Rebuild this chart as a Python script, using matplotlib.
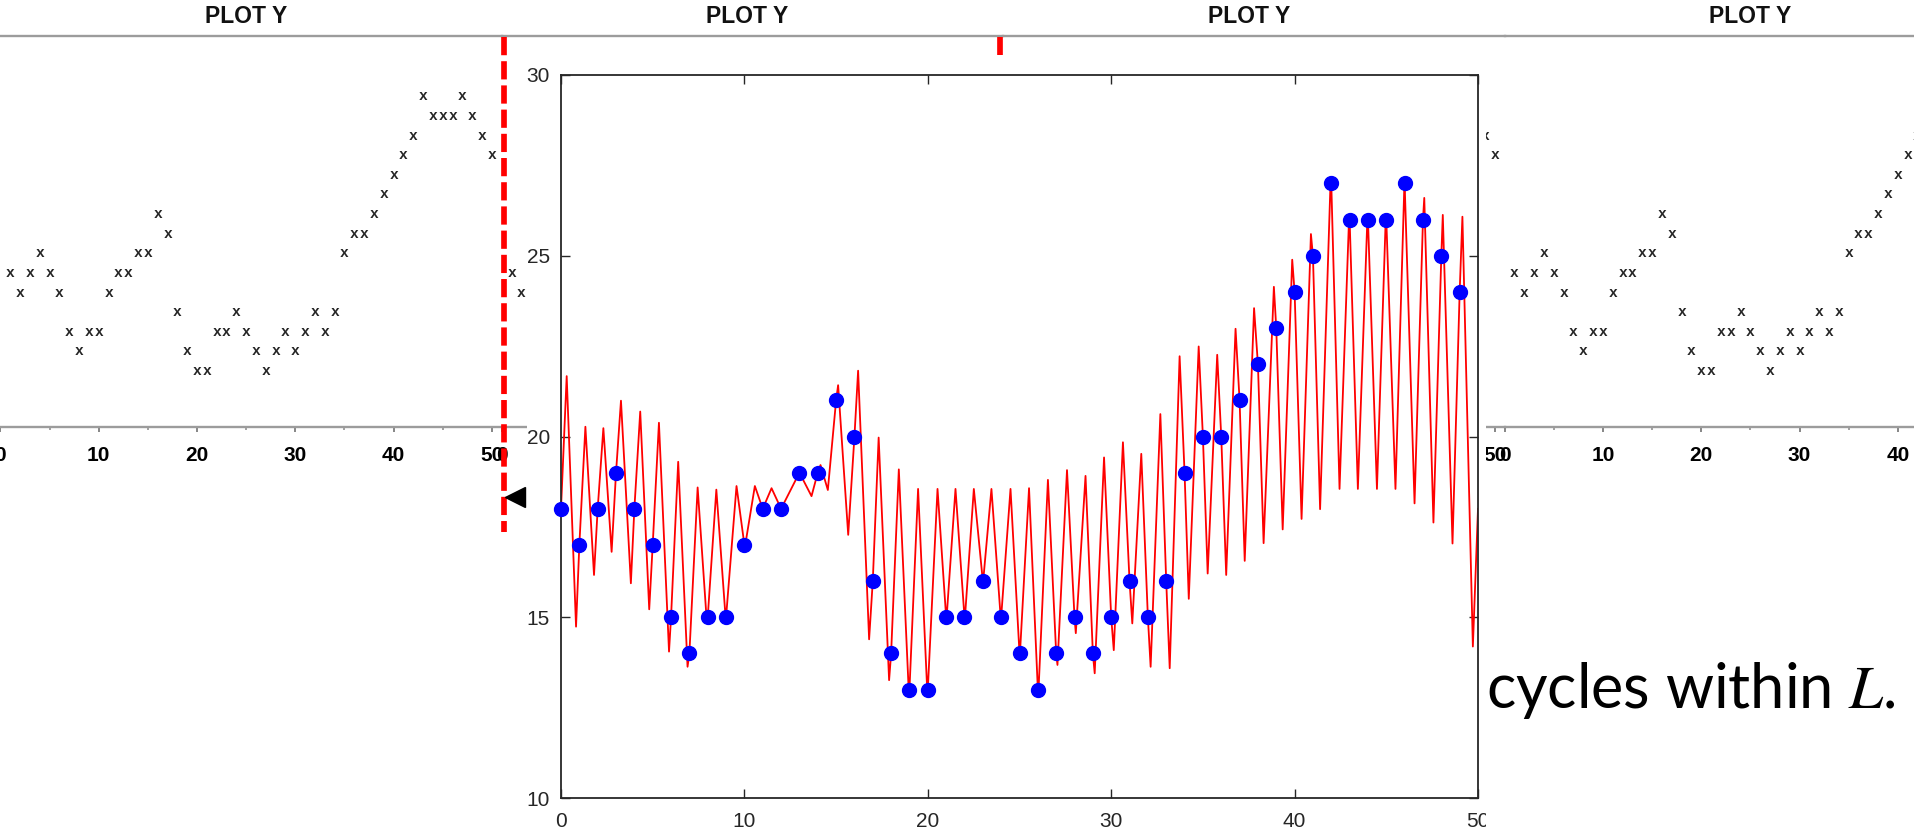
import matplotlib
matplotlib.use("Agg")
import matplotlib.pyplot as plt
from matplotlib.lines import Line2D
from matplotlib.patches import Rectangle
from matplotlib.transforms import Bbox, TransformedBbox, blended_transform_factory

plt.rcParams["font.family"] = ["Liberation Sans", "DejaVu Sans"]
plt.rcParams["mathtext.fontset"] = "stix"

W, H = 1915, 833

# Sampled values (blue dots, one per integer x); the PLOT Y strips show the same values at x=1..50
sample_x = list(range(50))
sample_y = [18, 17, 18, 19, 18, 17, 15, 14, 15, 15,
            17, 18, 18, 19, 19, 21, 20, 16, 14, 13,
            13, 15, 15, 16, 15, 14, 13, 14, 15, 14,
            15, 16, 15, 16, 19, 20, 20, 21, 22, 23,
            24, 25, 27, 26, 26, 26, 27, 26, 25, 24]

# Maxima of the red (continuous) signal
peak_x = [0.31, 1.33, 2.31, 3.27, 4.32, 5.34, 6.39, 7.45, 8.47, 9.57,
          10.57, 11.48, 12.55, 14.15, 15.11, 16.20, 17.32, 18.42, 19.47, 20.53,
          21.51, 22.51, 23.47, 24.51, 25.52, 26.55, 27.59, 28.60, 29.61, 30.64,
          31.64, 32.68, 33.73, 34.77, 35.78, 36.78, 37.79, 38.87, 39.87, 40.89,
          41.96, 42.97, 43.97, 44.97, 45.99, 47.07, 48.08, 49.15]
peak_y = [21.67, 20.27, 20.23, 20.99, 20.69, 20.38, 19.30, 18.59, 18.53, 18.63,
          18.63, 18.57, 18.55, 19.21, 21.42, 21.82, 19.97, 19.09, 18.55, 18.55,
          18.55, 18.55, 18.55, 18.55, 18.57, 18.80, 19.07, 18.91, 19.42, 19.84,
          19.52, 20.62, 22.22, 22.49, 22.26, 22.98, 23.55, 24.14, 24.89, 25.60,
          27.05, 26.05, 26.05, 26.05, 27.05, 26.60, 26.13, 26.08]

# Minima of the red signal
trough_x = [0.82, 1.80, 2.76, 3.81, 4.81, 5.89, 6.90, 7.94, 8.98, 10.03,
            13.66, 14.55, 15.66, 16.80, 17.89, 18.97, 19.98, 21.02, 22.02, 23.01,
            23.98, 25.02, 26.03, 27.07, 28.07, 29.10, 30.14, 31.15, 32.15, 33.19,
            34.23, 35.26, 36.27, 37.28, 38.31, 39.35, 40.38, 41.39, 42.45, 43.45,
            44.49, 45.50, 46.54, 47.57, 48.61, 49.72]
trough_y = [14.74, 16.17, 16.81, 15.94, 15.22, 14.05, 13.63, 14.95, 14.95, 16.95,
            18.35, 18.52, 17.28, 14.39, 13.26, 12.85, 12.85, 14.95, 14.95, 15.95,
            14.95, 13.95, 12.90, 13.68, 14.56, 13.45, 14.09, 14.83, 13.63, 13.59,
            15.51, 16.21, 16.17, 16.56, 17.05, 17.43, 17.72, 17.99, 18.55, 18.55,
            18.55, 18.55, 18.15, 17.62, 17.04, 14.19]

# Value where the red signal leaves the right edge
edge_x = [50.0]
edge_y = [18.0]

strip_ticks = [0, 10, 20, 30, 40, 50]
main_xticks = [0, 10, 20, 30, 40, 50]
main_yticks = [10, 15, 20, 25, 30]

fig = plt.figure(figsize=(W / 100, H / 100), dpi=100)


def px_axes(left, top, right, bottom, **kw):
    # Add axes from pixel box (origin top-left)
    return fig.add_axes([left / W, 1 - bottom / H, (right - left) / W, (bottom - top) / H], **kw)


def fig_y(y_px):
    return 1 - y_px / H


# Background "PLOT Y" strips, repeated side by side
strip_x0 = 0.4
strip_w = 501.4
for i in range(4):
    x0 = strip_x0 + i * strip_w
    ax = px_axes(x0, 36, x0 + strip_w, 427, zorder=0)
    ax.patch.set_visible(False)
    ax.set_xlim(0, 51)
    ax.set_ylim(10.15, 30.07)
    for side in ("left", "right"):
        ax.spines[side].set_visible(False)
    for side in ("top", "bottom"):
        ax.spines[side].set_color("#9c9c9c")
        ax.spines[side].set_linewidth(1.7)
    ax.set_yticks([])
    ax.set_xticks(strip_ticks, labels=[str(t) for t in strip_ticks],
                  fontweight="bold", fontsize=15)
    ax.set_xticks([5, 15, 25, 35, 45], minor=True)
    ax.tick_params(axis="x", which="major", direction="out", length=3.6,
                   width=1.1, color="#666666", pad=10)
    ax.tick_params(axis="x", which="minor", direction="out", length=2.2,
                   width=1.1, color="#888888")

    for k, v in enumerate(sample_y):
        ax.text(k + 1, v, "x", ha="center", va="center", fontsize=10.5,
                family="Liberation Mono", fontweight="bold", color="#262626")

    trans = blended_transform_factory(ax.transData, ax.transAxes)
    ax.text(25, 1.0486, "PLOT Y", transform=trans, ha="center", va="center",
            fontsize=16.5, fontweight="bold", color="#111111")

# Red dashed markers
for x_px in (504, 1000):
    fig.add_artist(Line2D([x_px / W, x_px / W], [fig_y(37), fig_y(532)],
                          transform=fig.transFigure, color="#ff0000", lw=4.1,
                          linestyle=(0, (3.2, 1.05)), zorder=0.5))

# Black pointer next to the dashed line
fig.add_artist(Line2D([515 / W], [fig_y(497)], transform=fig.transFigure,
                      marker="<", markersize=15, color="black", lw=0, zorder=0.7))

# Slide text partly hidden behind the plot
txt = fig.text(1486 / W, fig_y(708), "cycles within $L$.", ha="left", va="baseline",
               fontsize=40, family="Lato", color="black", zorder=0.6)
renderer = fig.canvas.get_renderer()
width_px = txt.get_window_extent(renderer).width
txt.set_fontsize(40 * 410 / width_px)

# White pasted plot covering the strips
fig.add_artist(Rectangle((527 / W, 0), (1486 - 527) / W, fig_y(55),
                         transform=fig.transFigure, facecolor="white",
                         edgecolor="none", zorder=1))

# Main plot
ax = px_axes(561, 75, 1478, 798, zorder=2)
ax.set_facecolor("white")

pts = sorted(zip(sample_x + peak_x + trough_x + edge_x,
                 sample_y + peak_y + trough_y + edge_y))
line_x = [p[0] for p in pts]
line_y = [p[1] for p in pts]
ax.plot(line_x, line_y, color="#ff0000", lw=1.3, solid_joinstyle="round", zorder=2)
ax.plot(sample_x, sample_y, "o", color="#0000ff", markersize=10, zorder=3, clip_on=False)

ax.set_xlim(0, 50)
ax.set_ylim(10, 30)
ax.set_xticks(main_xticks)
ax.set_yticks(main_yticks)
ax.tick_params(direction="in", length=6.5, width=1.0, color="#262626",
               labelcolor="#262626", labelsize=15, top=True, right=True)
ax.tick_params(axis="x", pad=10)
ax.tick_params(axis="y", pad=8)
for spine in ax.spines.values():
    spine.set_color("#262626")
    spine.set_linewidth(1.3)

# The pasted image is cut on its right edge, so the last x label is clipped
clip = TransformedBbox(Bbox.from_extents(527 / W, 0, 1486 / W, 1), fig.transFigure)
for tick in ax.xaxis.get_major_ticks():
    tick.label1.set_clip_box(clip)
    tick.label1.set_clip_on(True)

fig.savefig("out.png", dpi=100)
